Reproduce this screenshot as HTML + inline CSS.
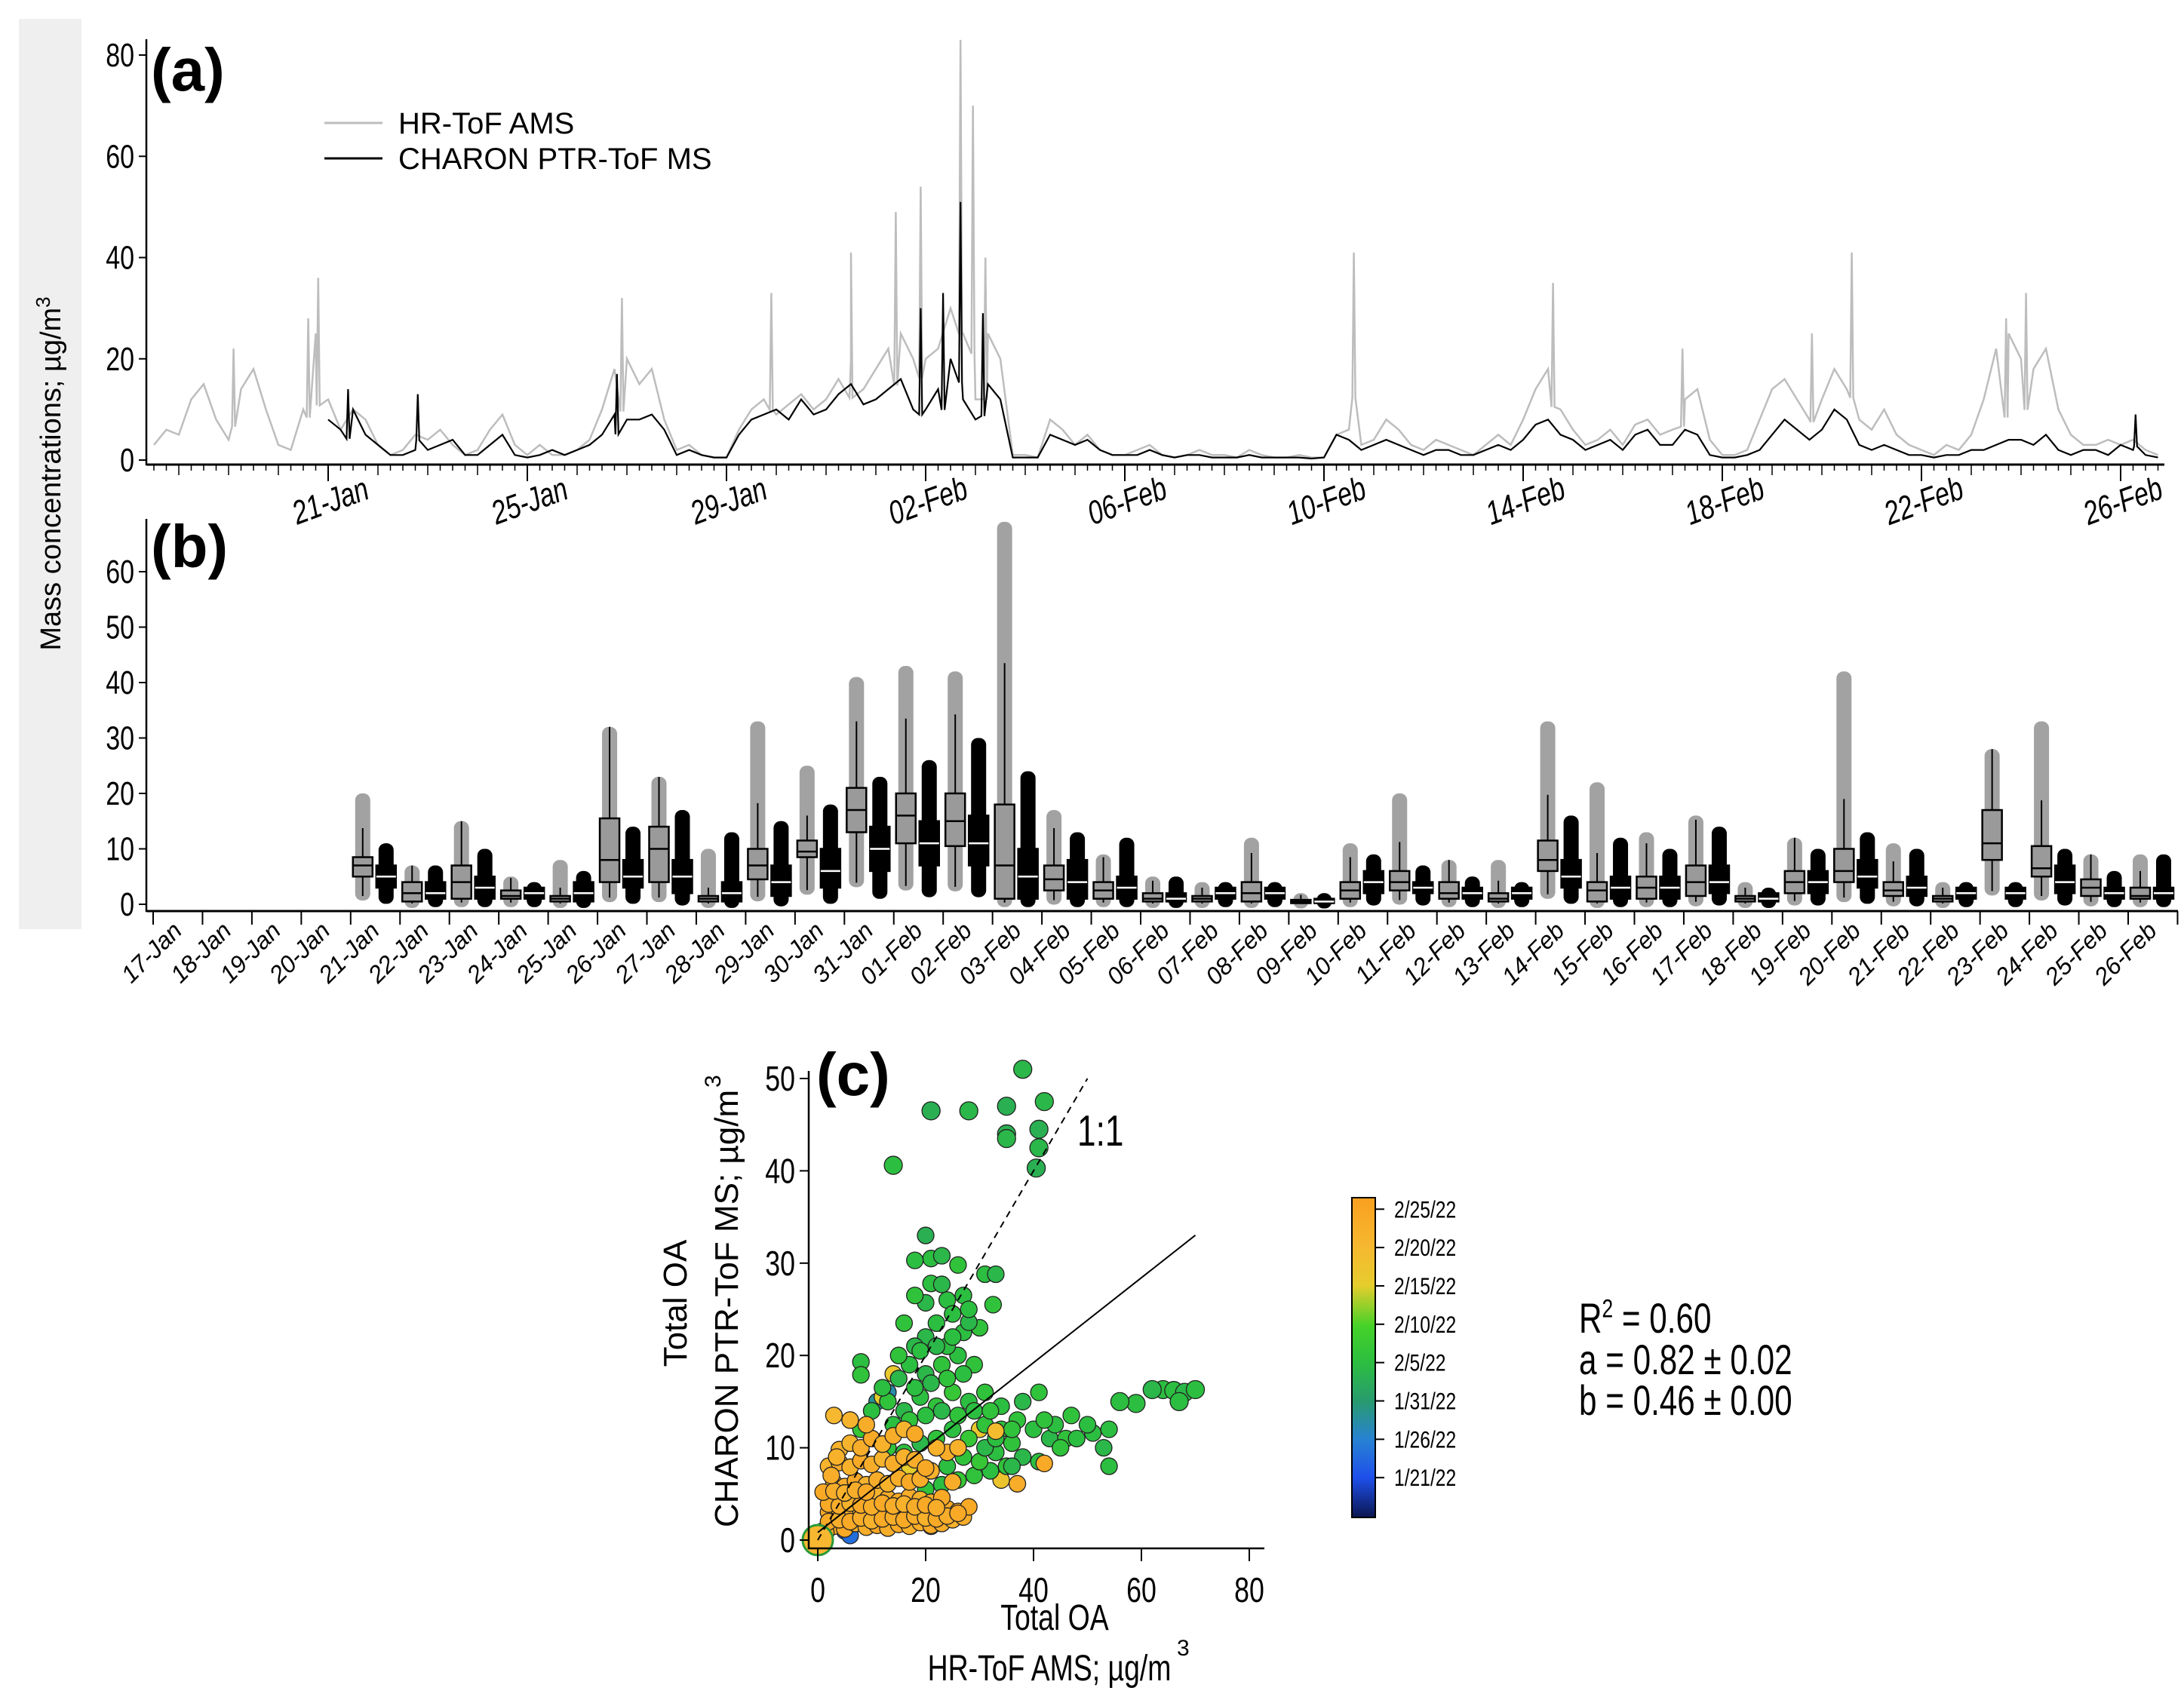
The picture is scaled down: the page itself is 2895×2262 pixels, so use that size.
<!DOCTYPE html>
<html><head><meta charset="utf-8">
<style>
html,body{margin:0;padding:0;background:#fff;}
svg{display:block;}
text{font-family:"Liberation Sans Narrow","Liberation Sans",sans-serif;}
.w{font-family:"Liberation Sans",sans-serif;}
</style></head>
<body>
<svg id="fig" width="2895" height="2262" viewBox="0 0 2895 2262" xmlns="http://www.w3.org/2000/svg">
<rect x="25" y="25" width="83" height="1207" fill="#efefef"/>
<text class="w" x="0" y="0" transform="translate(80,628) rotate(-90)" font-size="38" text-anchor="middle">Mass concentrations; µg/m<tspan font-size="26" dy="-14">3</tspan></text>
<g id="pa"></g>
<g id="pb"></g>
<g id="pc"></g>
</svg>
<script>
// ---------- Panel (a) data ----------
const amsStart = 17.5;
const amsVals = [3,6, 5,12,15,8, 4,14,18,10, 3,2,10,25, 12,6,10,8, 3,1,2,5, 4,6,3,1, 2,6,9,3, 1,3,1,1, 2,4,10,18, 20,15,18,8, 2,3,1,0.5, 0.5,6,10,12, 9,11,13,10, 12,16,20,14, 18,22,25,20, 20,22,30,25, 12,25,20,1, 1,0.5,8,6, 3,5,2,1, 1,2,3,1, 0.5,1,2,1, 1,0.5,2,1, 0.5,0.5,1,0.5, 0.5,5,6,3, 4,8,6,3, 2,4,3,2, 1,3,5,3, 8,14,18,10, 6,3,4,6, 3,7,8,5, 6,12,14,4, 1,1,2,8, 14,16,12,8, 12,18,14,8, 6,10,5,3, 2,1,3,2, 5,12,22,25, 20,18,22,10, 5,3,3,4, 3,4,2,1];
const amsSpikeT = [19.1,20.6,20.8,26.9,29.9,31.5,32.4,32.9,33.7,33.95,34.2,41.6,45.6,48.2,50.8,51.6,54.7,55.1];
const amsSpikeV = [22,28,36,32,33,41,49,54,83,70,40,41,35,22,25,41,28,33];
const ptrStart = 21.0;
const ptrVals = [8,6,10,5, 3,1,1,2, 2,3,4,1, 1,3,5,1, 0.5,1,2,1, 2,3,5,9, 8,8,9,6, 1,2,1,0.5, 0.5,5,8,9, 10,8,12,9, 10,13,15,11, 12,14,16,10, 10,14,20,12, 8,15,12,0.5, 0.5,0.5,5,4, 3,4,2,1, 1,1,2,1, 0.5,1,1,0.5, 0.5,0.5,1,0.5, 0.5,0.5,0.5,0.3, 0.5,5,4,2, 3,4,3,2, 1,2,2,1, 1,2,3,2, 4,7,8,5, 4,2,3,4, 2,5,6,3, 3,6,5,1, 0.5,0.5,1,2, 5,8,6,4, 6,10,8,3, 2,3,2,1, 1,0.5,1,1, 2,2,3,4, 4,3,5,2, 1,2,2,1, 3,2,1,0.5];
const ptrSpikeT = [21.4,22.8,26.8,32.9,33.35,33.7,34.15,57.3];
const ptrSpikeV = [14,13,17,30,33,51,29,9];
const aYTicks = [0,20,40,60,80];
const aDateLabels = ["21-Jan","25-Jan","29-Jan","02-Feb","06-Feb","10-Feb","14-Feb","18-Feb","22-Feb","26-Feb"];
const aDateDays = [21,25,29,33,37,41,45,49,53,57];

// ---------- Panel (b) data ----------
const bCats = ["17-Jan","18-Jan","19-Jan","20-Jan","21-Jan","22-Jan","23-Jan","24-Jan","25-Jan","26-Jan","27-Jan","28-Jan","29-Jan","30-Jan","31-Jan","01-Feb","02-Feb","03-Feb","04-Feb","05-Feb","06-Feb","07-Feb","08-Feb","09-Feb","10-Feb","11-Feb","12-Feb","13-Feb","14-Feb","15-Feb","16-Feb","17-Feb","18-Feb","19-Feb","20-Feb","21-Feb","22-Feb","23-Feb","24-Feb","25-Feb","26-Feb"];
const gQ1  = [null,null,null,null,5,0.5,1,1,0.5,4,4,0.5,4.5,8.5,13,11,10.5,1,2.5,1,0.5,0.5,0.5,0.2,1,2.5,1,0.5,6,0.5,1,1.5,0.5,2,4,1.5,0.5,8,5,1.5,1];
const gMed = [null,null,null,null,7,2,4,1.5,1,8,10,1,7,9.5,17,16,15,7,4.5,2.5,1,1,2,0.5,2.5,4,2,1,8,2.5,3,4,1,4,6,2.5,1,11,6.5,3,1.5];
const gQ3  = [null,null,null,null,8.5,4,7,2.5,1.5,15.5,14,1.5,10,11.5,21,20,20,18,7,4,2,1.5,4,0.8,4,6,4,2,11.5,4,5,7,1.5,6,10,4,1.5,17,10.5,4.5,3];
const gMax = [null,null,null,null,20,7,15,5,8,32,23,10,33,25,41,43,42,69,17,9,5,4,12,2,11,20,8,8,33,22,13,16,4,12,42,11,4,28,33,9,9];
const kQ1  = [null,null,null,null,3,1,1,1,0.5,3,2,0.5,1.5,3,6,7,7,1,1,1,0.5,1,1,0.2,2,2,1,1,3,1,1,2,0.5,2,3,1.5,1,1,2,1,1];
const kMed = [null,null,null,null,5,2,3,2,2,5,5,2,4,6,10,11,11,5,4,3,1,2,2,0.5,4,3,2,2,5,3,3,4,1,4,5,3,2,2,4,2,2];
const kQ3  = [null,null,null,null,7,4,5,3,4,8,8,4,7,10,14,15,16,10,8,5,2,3,3,1,6,4,3,3,8,5,5,7,2,6,8,5,3,3,7,3,3];
const kMax = [null,null,null,null,11,7,10,4,6,14,17,13,15,18,23,26,30,24,13,12,5,4,4,2,9,7,5,4,16,12,10,14,3,10,13,10,4,4,10,6,9];
const bYTicks = [0,10,20,30,40,50,60];

// ---------- Panel (c) data ----------
const orangeX = [3,5,7,9,11,13,15,17,19,21,23,25,27, 2,4,6,8,10,12,14,16,18,20,22,24,26,28, 3,5,7,9,11,13,15,17,19,21,23, 3,5,7,9,11,13,15,17,19,21,25, 2,4,6,8,10,12,14,16,18,20, 4,6,8,10,12,14,16,18,24,26,3,6,9,33,42,37,22, 0.5,1,1.5,2,0.3, 4,6,8,10,12,14,16,18,20,22,24,26, 2,4,6,8,10,12,14,16,18,20,22, 1,3,5,7,9,2.5,3.5];
const orangeY = [1.5,1.2,1.8,1.4,1.6,1.3,1.7,1.5,1.9,1.6,1.8,2.2,2.5, 3,3.3,2.8,3.2,2.9,3.4,3.1,2.8,3.3,3.0,2.7,3.4,3.1,3.6, 4.6,4.3,4.8,4.4,4.9,4.5,4.2,4.7,4.4,4.1,4.6, 6.2,5.8,6.4,6.0,6.5,6.1,6.7,6.3,6.6,7.5,6.3, 8,8.4,7.9,8.6,8.2,8.8,8.3,9,8.7,7.8, 9.8,10.5,10,11,10.4,11.3,12,11.5,9.5,10,13.5,13,12.5,11.8,8.3,6.1,10, 0.3,1,0.8,2,0.2, 2.2,2.0,2.4,2.1,2.3,2.5,2.2,2.6,2.4,2.3,2.6,2.9, 3.9,3.7,4.0,3.8,3.6,4.0,3.7,3.9,3.6,3.8,3.5, 5.2,5.3,5.1,5.4,5.2,7,9];
const orangeDay = [54,55,53,54,56,54,55,53,54,55,54,53,54, 55,54,53,54,55,54,56,54,55,53,54,55,54,55, 54,53,55,54,52,54,55,54,53,54,55, 53,54,55,52,54,53,54,55,54,53,54, 52,54,53,55,54,52,54,53,54,55, 53,52,54,55,53,54,52,55,54,53,51,52,54,50,55,54,53, 55,54,56,55,54, 54,55,54,53,55,54,55,54,53,55,54,55, 55,54,53,55,54,55,54,53,54,55,54, 55,54,53,54,55,54,53];
const greenX = [20,23,26,29,32,35,38,24,27,30,33,36, 8,10,13,16,19,22,25,28,31,34,37,40,43,46,48,51, 6,10,13,16,19,22,25,28,31,34,38,41,12,15, 8,8,17,20,23,26,29,24,20,27,30,22,18, 24,20,18,21,23,27,32.5,25,28,20,21,23,18,26,31,33,14,38,21,28,35,42,35,35,41,41,40.5, 64,66,68,70,67,62,59,56,47,50,53,54,45,54,41,36,44,42, 14,17,20,23,26,29,32,18,21,24,27,15,19,22,25,16,28,31,33,36];
const greenY = [5.5,6,6.5,7,7.5,8,9,8,9,8.5,9.5,10.5, 12,11,10,9.5,10.5,11,12,11,12.5,12,13,12,11,11,11,11.6, 13,14,15,14,15.5,14.5,16,15,16,14.5,15,16,16.5,17.5, 19.3,17.9,19,18,19,20,19,21,22,22.5,23,23.5,21, 26,25.7,26.5,27.8,27.7,26.5,25.5,24.5,23.6,33,30.5,30.8,30.3,29.8,28.8,28.8,40.6,51,46.5,46.5,47,47.5,44,43.5,44.5,42.5,40.3, 16.3,16.2,16,16.3,15,16.3,14.8,15,13.5,12.5,10,12,10,8,8.5,8,12.5,13, 12.5,13,13.5,14,13.5,14,14,16.5,17,17.5,18,20,20.5,21,22,23.5,25,10,11,12];
const greenDay = [37,36,38,37,36,37,35,36,37,38,36,37, 38,36,37,36,35,37,36,38,37,36,37,36,35,37,36,36, 38,36,37,35,36,37,38,36,37,36,35,37,36,35, 36,37,36,35,37,36,37,36,35,36,37,36,35, 36,35,37,36,35,36,37,36,35,34,36,35,36,37,36,35,36,35,34,35,34,35,34,35,34,35,34, 36,36,35,36,36,35,36,36,37,36,35,36,37,36,36,35,36,37, 36,37,36,35,37,36,37,36,35,37,36,37,36,35,36,37,36,35,36,37];
const otherX = [13,10,11,5,6,4,21,14,12,30,34,17];
const otherY = [16,14,15,1,0.5,2,1.5,18,15.5,12,6.5,8];
const otherDay = [28,27,29,22,24,26,45,47,46,47,48,46];
const fitA = 0.82, fitB = 0.46;
const cXTicks = [0,20,40,60,80];
const cYTicks = [0,10,20,30,40,50];
const cbTickLabels = ["2/25/22","2/20/22","2/15/22","2/10/22","2/5/22","1/31/22","1/26/22","1/21/22"];
const cbTickDays = [56,51,46,41,36,31,26,21];

const NS = "http://www.w3.org/2000/svg";
function mk(parent, tag, attrs, txt){
  const e = document.createElementNS(NS, tag);
  for (const k in attrs) e.setAttribute(k, attrs[k]);
  if (txt !== undefined) e.textContent = txt;
  parent.appendChild(e);
  return e;
}

// ================= Panel A =================
const pa = document.getElementById('pa');
const ax = t => 435 + (t - 21) * 66;
const ay = v => 610 - v * 6.7125;
function series(start, vals, st, sv){
  const pts = vals.map((v,i)=>[start + i*0.25, v]);
  st.forEach((t,i)=>{ pts.push([t-0.03, sv[i]*0.3]); pts.push([t, sv[i]]); pts.push([t+0.03, sv[i]*0.3]); });
  pts.sort((a,b)=>a[0]-b[0]);
  return pts.map(p=>ax(p[0]).toFixed(1)+","+ay(p[1]).toFixed(1)).join(" ");
}
let e;
e = mk(pa,'polyline',{points:series(amsStart, amsVals, amsSpikeT, amsSpikeV), fill:'none', stroke:'#bdbdbd', 'stroke-width':2.5});


e = mk(pa,'polyline',{points:series(ptrStart, ptrVals, ptrSpikeT, ptrSpikeV), fill:'none', stroke:'#000', 'stroke-width':2.2});


mk(pa,'line',{x1:194,y1:52,x2:194,y2:617,stroke:'#000','stroke-width':2.5});
mk(pa,'line',{x1:194,y1:616,x2:2869,y2:616,stroke:'#000','stroke-width':3});
aYTicks.forEach(v=>{
  mk(pa,'line',{x1:184,y1:ay(v),x2:194,y2:ay(v),stroke:'#000','stroke-width':2});
  e = mk(pa,'text',{x:0,y:0,transform:`translate(178,${ay(v)+15}) scale(0.85,1.1)`,'font-size':40,'text-anchor':'end'}, String(v));
  
  
});
for (let t = 17.5; t <= 57.8; t += 0.25){
  const x = ax(t); if (x < 196 || x > 2867) continue;
  const isDay = Math.abs(t - Math.round(t)) < 0.01;
  mk(pa,'line',{x1:x,y1:616,x2:x,y2:616+(isDay?14:8),stroke:'#000','stroke-width':1.5});
}
aDateDays.forEach((d,i)=>{
  const x = ax(d);
  mk(pa,'line',{x1:x,y1:616,x2:x,y2:638,stroke:'#000','stroke-width':2});
  e = mk(pa,'text',{x:0,y:0,transform:`translate(${x+8},${678}) rotate(-20) scale(0.85,1.1)`,'font-size':40,'text-anchor':'middle','font-style':'italic'}, aDateLabels[i]);
  
  
});
e = mk(pa,'text',{x:200,y:120,'font-size':80,'font-weight':'bold'},'(a)');


mk(pa,'line',{x1:430,y1:163,x2:507,y2:163,stroke:'#bdbdbd','stroke-width':3});
mk(pa,'line',{x1:430,y1:210,x2:507,y2:210,stroke:'#000','stroke-width':3});
e = mk(pa,'text',{x:528,y:177,'font-size':40},'HR-ToF AMS');


e = mk(pa,'text',{x:528,y:224,'font-size':40},'CHARON PTR-ToF MS');



// ================= Panel B =================
const pb = document.getElementById('pb');
const bx = i => 203 + i * 65.45;
const by = v => 1199 - v * 7.35;
mk(pb,'line',{x1:194,y1:688,x2:194,y2:1209,stroke:'#000','stroke-width':2.5});
mk(pb,'line',{x1:194,y1:1208,x2:2887,y2:1208,stroke:'#000','stroke-width':3});
bYTicks.forEach(v=>{
  mk(pb,'line',{x1:184,y1:by(v),x2:194,y2:by(v),stroke:'#000','stroke-width':2});
  e = mk(pb,'text',{x:0,y:0,transform:`translate(178,${by(v)+15}) scale(0.85,1.1)`,'font-size':40,'text-anchor':'end'}, String(v));
  
  
});
for (let i=0;i<=bCats.length;i++){
  mk(pb,'line',{x1:bx(i),y1:1208,x2:bx(i),y2:1226,stroke:'#000','stroke-width':2});
}
bCats.forEach((c,i)=>{
  e = mk(pb,'text',{x:0,y:0,transform:`translate(${bx(i)+40},${1236}) rotate(-45)`,'font-size':32,'text-anchor':'end','font-style':'italic'}, c);
  
  
});
function drawBox(i, off, q1, med, q3, mx, cloudCol, boxFill, name){
  if (q1 === null) return;
  const cx = bx(i) + off;
  const lo = Math.max(0, q1*0.3);
  const cl = mk(pb,'rect',{x:cx-10,y:by(mx),width:20,height:by(lo)-by(mx)+6,rx:9,fill:cloudCol});
  
  
  const wh = Math.min(mx, q3 + 1.5*(q3-q1));
  mk(pb,'line',{x1:cx,y1:by(wh),x2:cx,y2:by(lo),stroke:'#000','stroke-width':2});
  const b = mk(pb,'rect',{x:cx-13,y:by(q3),width:26,height:Math.max(2,by(q1)-by(q3)),fill:boxFill,stroke:'#000','stroke-width':2.5});
  
  
  mk(pb,'line',{x1:cx-13,y1:by(med),x2:cx+13,y2:by(med),stroke:boxFill==='#000'?'#fff':'#000','stroke-width':2.5});
}
bCats.forEach((c,i)=>{
  drawBox(i, 16, gQ1[i], gMed[i], gQ3[i], gMax[i], '#a2a2a2', '#9a9a9a', 'ams-'+c);
  drawBox(i, 47, kQ1[i], kMed[i], kQ3[i], kMax[i], '#000', '#000', 'ptr-'+c);
});
e = mk(pb,'text',{x:200,y:752,'font-size':80,'font-weight':'bold'},'(b)');



// ================= Panel C =================
const pc = document.getElementById('pc');
const cx = v => 1084 + v * 7.15;
const cy = v => 2042 - v * 12.24;
const stops = [[0,[11,22,80]],[0.125,[30,80,235]],[0.245,[40,130,210]],[0.365,[40,155,110]],[0.485,[44,190,64]],[0.6,[70,210,40]],[0.725,[230,205,45]],[0.845,[246,184,48]],[1,[249,160,32]]];
function cmap(d){
  const f = Math.max(0, Math.min(1, (d - 15.8)/(57.5-15.8)));
  for (let i=1;i<stops.length;i++){
    if (f <= stops[i][0]){
      const a=stops[i-1], b=stops[i], u=(f-a[0])/(b[0]-a[0]);
      const c=a[1].map((v,k)=>Math.round(v+(b[1][k]-v)*u));
      return `rgb(${c[0]},${c[1]},${c[2]})`;
    }
  }
  return 'rgb(249,160,32)';
}
function drawPts(X,Y,D,name){
  X.forEach((x,i)=>{
    const r = (Y[i] > 40 || x > 55) ? 12 : 11;
    const p = mk(pc,'circle',{cx:cx(x),cy:cy(Y[i]),r:r,fill:cmap(D[i]),stroke:'#222','stroke-width':1.3});
    
    
  });
}
drawPts(otherX, otherY, otherDay, 'scatter-point-other');
drawPts(greenX, greenY, greenDay, 'scatter-point-early-feb');
drawPts(orangeX, orangeY, orangeDay, 'scatter-point-late-feb');
e = mk(pc,'circle',{cx:cx(0),cy:cy(0),r:20,fill:'#f7b731',stroke:'#2a9a3a','stroke-width':3});


e = mk(pc,'line',{x1:cx(0),y1:cy(0),x2:cx(50),y2:cy(50),stroke:'#000','stroke-width':2,'stroke-dasharray':'9,7'});


e = mk(pc,'line',{x1:cx(0),y1:cy(fitA),x2:cx(70),y2:cy(fitA+fitB*70),stroke:'#000','stroke-width':2});


mk(pc,'line',{x1:1072,y1:1420,x2:1072,y2:2054,stroke:'#000','stroke-width':2.5});
mk(pc,'line',{x1:1071,y1:2053,x2:1676,y2:2053,stroke:'#000','stroke-width':2.5});
cYTicks.forEach(v=>{
  mk(pc,'line',{x1:1060,y1:cy(v),x2:1072,y2:cy(v),stroke:'#000','stroke-width':2});
  e = mk(pc,'text',{x:0,y:0,transform:`translate(1054,${cy(v)+16}) scale(0.85,1.1)`,'font-size':42,'text-anchor':'end'},String(v));
  
  
});
cXTicks.forEach(v=>{
  mk(pc,'line',{x1:cx(v),y1:2053,x2:cx(v),y2:2070,stroke:'#000','stroke-width':2});
  e = mk(pc,'text',{x:0,y:0,transform:`translate(${cx(v)},2124) scale(0.85,1.1)`,'font-size':42,'text-anchor':'middle'},String(v));
  
  
});
e = mk(pc,'text',{x:1082,y:1452,'font-size':80,'font-weight':'bold'},'(c)');


e = mk(pc,'text',{x:0,y:0,transform:'translate(1428,1519) scale(0.85,1.1)','font-size':52},'1:1');


e = mk(pc,'text',{x:0,y:0,transform:'translate(1398,2161) scale(0.85,1.1)','font-size':44,'text-anchor':'middle'},'Total OA');


e = mk(pc,'text',{x:0,y:0,transform:'translate(1391,2228) scale(0.85,1.1)','font-size':44,'text-anchor':'middle'},'HR-ToF AMS; µg/m');


mk(pc,'text',{x:1560,y:2195,'font-size':30},'3');
e = mk(pc,'text',{x:0,y:0,transform:'translate(910,1728) rotate(-90)','font-size':44,'text-anchor':'middle',class:'w'},'Total OA');


e = mk(pc,'text',{x:0,y:0,transform:'translate(978,1735) rotate(-90)','font-size':44,'text-anchor':'middle',class:'w'},'CHARON PTR-ToF MS; µg/m');


mk(pc,'text',{x:0,y:0,transform:'translate(955,1442) rotate(-90)','font-size':30,class:'w'},'3');
const defs = mk(pc,'defs',{});
const lg = mk(defs,'linearGradient',{id:'cbg',x1:0,y1:1,x2:0,y2:0});
stops.forEach(s=>mk(lg,'stop',{offset:s[0],'stop-color':`rgb(${s[1].join(',')})`}));
e = mk(pc,'rect',{x:1792,y:1588,width:31,height:424,fill:'url(#cbg)',stroke:'#000','stroke-width':2});


const cby = d => 1588 + (57.5 - d) * 10.17;
cbTickDays.forEach((d,i)=>{
  mk(pc,'line',{x1:1823,y1:cby(d),x2:1835,y2:cby(d),stroke:'#000','stroke-width':2});
  e = mk(pc,'text',{x:0,y:0,transform:`translate(1848,${cby(d)+11}) scale(0.85,1.1)`,'font-size':29},cbTickLabels[i]);
  
  
});
e = mk(pc,'text',{x:0,y:0,transform:'translate(2093,1767) scale(0.88,1.15)','font-size':48},'');
e.innerHTML = 'R<tspan font-size="30" dy="-18">2</tspan><tspan dy="18"> = 0.60</tspan>';


e = mk(pc,'text',{x:0,y:0,transform:'translate(2093,1822) scale(0.88,1.15)','font-size':48},'a = 0.82 ± 0.02');


e = mk(pc,'text',{x:0,y:0,transform:'translate(2093,1876) scale(0.88,1.15)','font-size':48},'b = 0.46 ± 0.00');


</script>
</body></html>
